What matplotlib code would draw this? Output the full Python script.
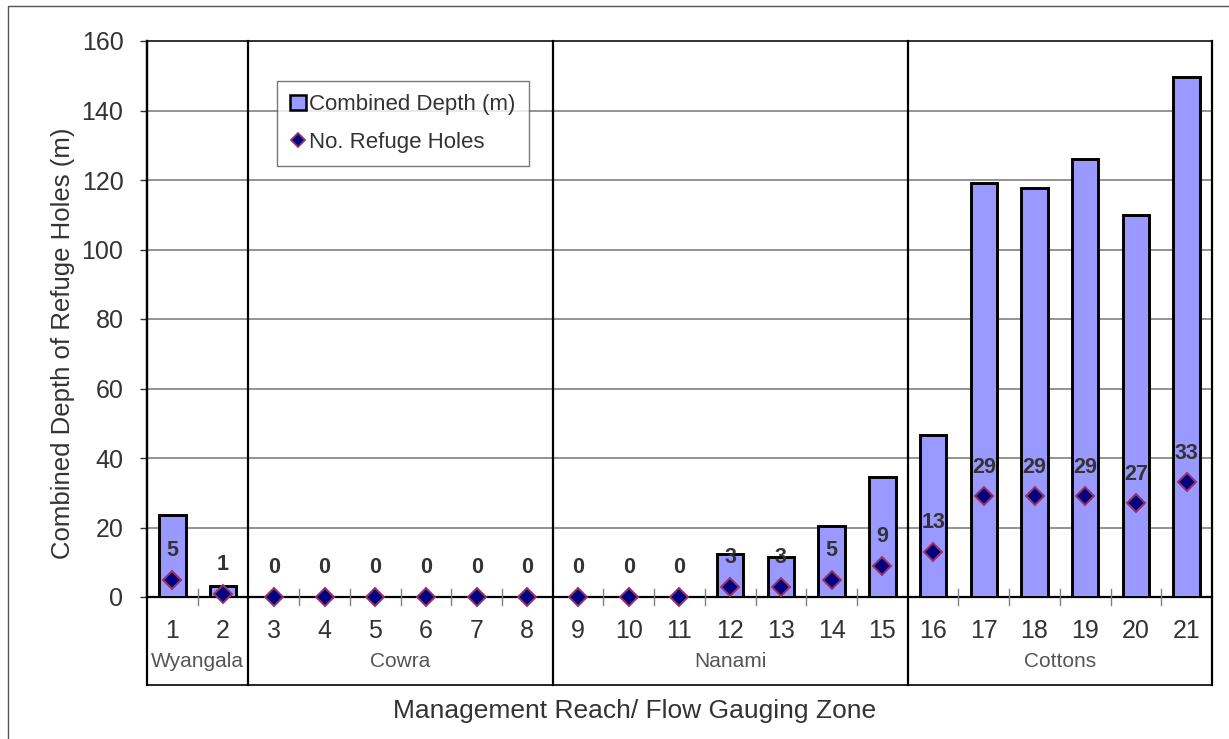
import numpy as np
import matplotlib
matplotlib.use('Agg')
import matplotlib.pyplot as plt
from matplotlib.lines import Line2D
from matplotlib.patches import Patch

plt.rcParams['font.family'] = ['Liberation Sans', 'DejaVu Sans']

reach = list(range(1, 22))
depth = [23.5, 3.3, 0, 0, 0, 0, 0, 0, 0, 0, 0, 12.4, 11.5, 20.5, 34.6,
         46.5, 119, 117.7, 125.9, 110, 149.6]
holes = [5, 1, 0, 0, 0, 0, 0, 0, 0, 0, 0, 3, 3, 5, 9, 13, 29, 29, 29, 27, 33]
zones = ['Wyangala', 'Cowra', 'Nanami', 'Cottons']
zone_bounds = [0.5, 2.5, 8.5, 15.5, 21.5]

W, H = 1229, 739
fig = plt.figure(figsize=(W / 100, H / 100), dpi=100)
ax = fig.add_axes([147 / W, (H - 597) / H, (1212 - 147) / W, (597 - 41) / H])

ax.bar(reach, depth, width=0.52, color='#9999FF', edgecolor='black', linewidth=2.1, zorder=3)
ax.plot(reach, holes, linestyle='none', marker='D', markersize=9,
        markerfacecolor='#000080', markeredgecolor='#993366', markeredgewidth=1.4,
        zorder=4, clip_on=False)
for x, h in zip(reach, holes):
    ax.annotate(str(h), (x, h), xytext=(0, 21), textcoords='offset points',
                ha='center', va='center', fontsize=15.5, fontweight='bold',
                color='#333333', zorder=5)

ax.set_xlim(0.5, 21.5)
ax.set_ylim(0, 160)
ax.set_yticks(range(0, 161, 20))
ax.yaxis.grid(True, color='#808080', linewidth=1.2, zorder=0)
ax.tick_params(axis='y', labelsize=18, colors='#333333', length=5, width=1, direction='out', pad=12)
ax.tick_params(axis='x', bottom=False, labelbottom=False)
for s in ['top', 'right']:
    ax.spines[s].set_color('#666666')
    ax.spines[s].set_linewidth(1.4)
ax.spines['left'].set_linewidth(1.6)
ax.spines['bottom'].set_linewidth(1.6)
ax.spines['top'].set_color('#333333')
fig.text(63 / W, 1 - 343 / H, 'Combined Depth of Refuge Holes (m)', rotation=90,
         ha='center', va='center', fontsize=18.5, color='#333333')

# category table under the axis
tr = ax.get_xaxis_transform()
tb = -0.158
for b in zone_bounds:
    ax.plot([b, b], [tb, 1], transform=tr, color='black', linewidth=1.6, clip_on=False, zorder=6)
ax.plot([0.5, 21.5], [tb, tb], transform=tr, color='black', linewidth=1.2, clip_on=False)
for x in np.arange(1.5, 21, 1.0):
    if x in zone_bounds:
        continue
    ax.plot([x, x], [-0.014, 0.014], transform=tr, color='#808080', linewidth=1, clip_on=False, zorder=6)
for x in reach:
    ax.text(x, -0.062, str(x), transform=tr, ha='center', va='center', fontsize=18, color='#333333')
for z, a, b in zip(zones, zone_bounds[:-1], zone_bounds[1:]):
    ax.text((a + b) / 2, -0.116, z, transform=tr, ha='center', va='center', fontsize=15, color='#555555')

fig.text(635 / W, 1 - 711 / H, 'Management Reach/ Flow Gauging Zone',
         ha='center', va='center', fontsize=19, color='#333333')

handles = [Patch(facecolor='#9999FF', edgecolor='black', linewidth=1.8),
           Line2D([], [], linestyle='none', marker='D', markersize=7,
                  markerfacecolor='#000080', markeredgecolor='#993366', markeredgewidth=1.3)]
leg = fig.legend(handles, ['Combined Depth (m)', 'No. Refuge Holes'],
                 loc='upper left', bbox_to_anchor=(277 / W, 1 - 81 / H),
                 fontsize=16, frameon=True, fancybox=False, handlelength=0.7,
                 handleheight=0.7, handletextpad=0.15, labelspacing=0.75,
                 borderpad=0.6, borderaxespad=0)
leg.get_frame().set_edgecolor('#555555')
leg.get_frame().set_linewidth(1)
for t in leg.get_texts():
    t.set_color('#333333')

# outer chart-area border (top and left edges only show)
fig.add_artist(Line2D([8 / W, 8 / W, 1.0], [0, 1 - 6 / H, 1 - 6 / H],
                      color='#555555', linewidth=1))

fig.savefig('out.png', dpi=100)
